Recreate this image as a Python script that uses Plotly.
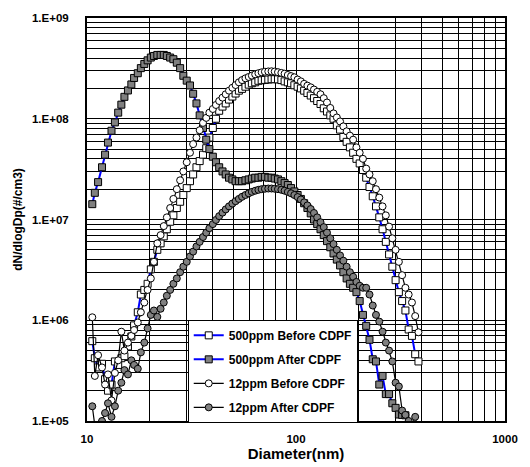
import plotly.graph_objects as go

# SMPS channel mid-point diameters (nm)
diam = [10.6, 10.9, 11.3, 11.8, 12.2, 12.6, 13.1, 13.6, 14.1, 14.6,
        15.1, 15.7, 16.3, 16.8, 17.5, 18.1, 18.8, 19.5, 20.2, 20.9,
        21.7, 22.5, 23.3, 24.1, 25.0, 25.9, 26.9, 27.9, 28.9, 30.0,
        31.1, 32.2, 33.4, 34.6, 35.9, 37.2, 38.5, 40.0, 41.4, 42.9,
        44.5, 46.1, 47.8, 49.6, 51.4, 53.3, 55.2, 57.3, 59.4, 61.5,
        63.8, 66.1, 68.5, 71.0, 73.7, 76.4, 79.1, 82.0, 85.1, 88.2,
        91.4, 94.7, 98.2, 101.8, 105.5, 109.4, 113.4, 117.6, 121.9, 126.3,
        131.0, 135.8, 140.7, 145.9, 151.2, 156.8, 162.5, 168.5, 174.7, 181.1,
        187.7, 194.6, 201.7, 209.1, 216.7, 224.7, 232.9, 241.4, 250.3, 259.5,
        269.0, 278.8, 289.0, 299.6, 310.6, 322.0, 333.8, 346.0, 358.7, 371.8,
        385.4]

ppm500_before = [6.2e5, 4.2e5, 3.4e5, 3.7e5, 2.6e5, 2.0e5, 2.3e5, 3.9e5, 3.6e5, 4.2e5,
                 4.4e5, 5.5e5, 6.9e5, 8.9e5, 1.2e6, 1.8e6, 2.0e6, 2.3e6, 3.2e6, 3.8e6,
                 5.0e6, 5.8e6, 6.8e6, 8.0e6, 9.5e6, 1.1e7, 1.3e7, 1.5e7, 1.75e7, 2.05e7,
                 2.4e7, 2.8e7, 3.3e7, 3.8e7, 4.4e7, 5.1e7, 6.5e7, 8.1e7, 1.0e8, 1.2e8,
                 1.32e8, 1.42e8, 1.55e8, 1.66e8, 1.78e8, 1.9e8, 1.98e8, 2.08e8, 2.18e8, 2.25e8,
                 2.3e8, 2.38e8, 2.41e8, 2.43e8, 2.45e8, 2.47e8, 2.47e8, 2.46e8, 2.42e8, 2.35e8,
                 2.3e8, 2.25e8, 2.15e8, 2.08e8, 2.0e8, 1.9e8, 1.8e8, 1.7e8, 1.6e8, 1.5e8,
                 1.4e8, 1.27e8, 1.18e8, 1.08e8, 1.0e8, 8.6e7, 7.8e7, 6.6e7, 5.9e7, 5.2e7,
                 4.6e7, 4.0e7, 3.6e7, 3.1e7, 2.6e7, 2.1e7, 1.7e7, 1.35e7, 1.05e7, 8.0e6,
                 6.0e6, 4.5e6, 3.4e6, 2.5e6, 1.9e6, 1.55e6, 1.25e6, 8.1e5, 7.0e5, 4.6e5,
                 3.9e5]

ppm500_after = [1.42e7, 1.84e7, 2.35e7, 3.3e7, 4.4e7, 5.8e7, 7.6e7, 9.2e7, 1.15e8, 1.38e8,
                1.65e8, 1.91e8, 2.19e8, 2.54e8, 2.83e8, 3.18e8, 3.5e8, 3.8e8, 4.05e8, 4.2e8,
                4.3e8, 4.3e8, 4.3e8, 4.2e8, 4.05e8, 3.9e8, 3.6e8, 3.18e8, 2.67e8, 2.39e8,
                2.14e8, 1.77e8, 1.42e8, 1.08e8, 8.1e7, 6.2e7, 5.0e7, 4.2e7, 3.7e7, 3.3e7,
                3.0e7, 2.8e7, 2.6e7, 2.5e7, 2.4e7, 2.4e7, 2.4e7, 2.45e7, 2.5e7, 2.55e7,
                2.6e7, 2.6e7, 2.65e7, 2.65e7, 2.6e7, 2.6e7, 2.55e7, 2.5e7, 2.4e7, 2.3e7,
                2.2e7, 2.05e7, 1.9e7, 1.75e7, 1.6e7, 1.45e7, 1.3e7, 1.15e7, 1.0e7, 9.0e6,
                8.0e6, 7.0e6, 6.1e6, 5.3e6, 4.6e6, 4.0e6, 3.5e6, 3.0e6, 2.6e6, 2.3e6,
                2.1e6, 1.9e6, 1.55e6, 1.13e6, 8.8e5, 6.4e5, 4.1e5, 3.9e5, 2.3e5, 2.8e5,
                1.85e5, 1.85e5, 1.5e5, 1.35e5, 1.16e5, 1.15e5, 1.14e5, 9.0e4, 8.0e4, 7.0e4,
                6.0e4]

ppm12_before = [1.07e6, 2.8e5, 4.5e5, 3.4e5, 2.3e5, 2.9e5, 1.6e5, 3.0e5, 4.0e5, 7.7e5,
                5.0e5, 6.0e5, 7.0e5, 8.0e5, 9.5e5, 1.2e6, 1.5e6, 2.0e6, 2.6e6, 3.8e6,
                5.8e6, 7.0e6, 8.6e6, 1.05e7, 1.3e7, 1.6e7, 2.0e7, 2.45e7, 3.0e7, 3.7e7,
                4.6e7, 5.6e7, 6.5e7, 7.7e7, 9.1e7, 1.02e8, 1.15e8, 1.25e8, 1.37e8, 1.5e8,
                1.62e8, 1.75e8, 1.9e8, 2.03e8, 2.16e8, 2.3e8, 2.42e8, 2.52e8, 2.6e8, 2.68e8,
                2.76e8, 2.83e8, 2.89e8, 2.93e8, 2.95e8, 2.96e8, 2.94e8, 2.9e8, 2.85e8, 2.8e8,
                2.72e8, 2.65e8, 2.58e8, 2.45e8, 2.35e8, 2.22e8, 2.13e8, 2.05e8, 1.95e8, 1.85e8,
                1.75e8, 1.6e8, 1.45e8, 1.28e8, 1.13e8, 1.03e8, 9.4e7, 8.4e7, 7.5e7, 6.8e7,
                6.2e7, 5.2e7, 4.6e7, 4.0e7, 3.2e7, 2.8e7, 2.4e7, 2.0e7, 1.65e7, 1.35e7,
                1.1e7, 8.5e6, 6.5e6, 5.0e6, 3.8e6, 2.8e6, 2.1e6, 1.8e6, 1.5e6, 1.1e6,
                7.6e5]

ppm12_after = [1.4e5, 0.9e5, 0.8e5, 1.0e5, 1.2e5, 1.5e5, 1.1e5, 1.4e5, 2.0e5, 2.4e5,
               3.2e5, 2.9e5, 4.0e5, 3.6e5, 3.3e5, 4.8e5, 6.0e5, 8.3e5, 1.13e6, 1.25e6,
               1.08e6, 1.3e6, 1.5e6, 1.75e6, 2.0e6, 2.3e6, 2.6e6, 3.0e6, 3.4e6, 3.8e6,
               4.3e6, 4.8e6, 5.4e6, 6.0e6, 6.7e6, 7.4e6, 8.2e6, 9.0e6, 9.9e6, 1.08e7,
               1.17e7, 1.26e7, 1.35e7, 1.44e7, 1.52e7, 1.6e7, 1.68e7, 1.75e7, 1.82e7, 1.88e7,
               1.93e7, 1.97e7, 2.0e7, 2.02e7, 2.03e7, 2.03e7, 2.02e7, 2.0e7, 1.97e7, 1.93e7,
               1.88e7, 1.82e7, 1.75e7, 1.67e7, 1.58e7, 1.48e7, 1.38e7, 1.27e7, 1.16e7, 1.05e7,
               9.4e6, 8.4e6, 7.4e6, 6.5e6, 5.7e6, 5.0e6, 4.4e6, 3.9e6, 3.4e6, 3.0e6,
               2.7e6, 2.4e6, 2.2e6, 2.1e6, 2.1e6, 1.8e6, 1.4e6, 1.13e6, 9.7e5, 7.7e5,
               6.0e5, 5.0e5, 3.9e5, 2.4e5, 2.2e5, 1.27e5, 1.15e5, 1.0e5, 9.0e4, 1.1e5,
               8.0e4]

series_names = ["500ppm Before CDPF", "500ppm After CDPF",
                "12ppm Before CDPF", "12ppm After CDPF"]
series_values = [ppm500_before, ppm500_after, ppm12_before, ppm12_after]
line_colors = ["#0000FF", "#0000FF", "#000000", "#000000"]
line_widths = [2, 2, 1.2, 1.2]
marker_symbols = ["square", "square", "circle", "circle"]
marker_fills = ["#FFFFFF", "#808080", "#FFFFFF", "#808080"]

x_tick_vals = [10, 100, 1000]
x_tick_text = ["10", "100", "1000"]
y_tick_vals = [1e5, 1e6, 1e7, 1e8, 1e9]
y_tick_text = ["1.E+05", "1.E+06", "1.E+07", "1.E+08", "1.E+09"]

FONT = "Liberation Sans, Arial, sans-serif"

fig = go.Figure()
for i, name in enumerate(series_names):
    fig.add_trace(go.Scatter(
        x=diam, y=series_values[i], name=name, mode="lines+markers",
        legendgroup=name,
        line=dict(color=line_colors[i], width=line_widths[i]),
        marker=dict(symbol=marker_symbols[i], size=7, color=marker_fills[i],
                    line=dict(color="#000000", width=1)),
    ))

grid_col = "#000000"
fig.update_layout(
    width=530, height=467,
    margin=dict(l=87, r=20, t=13, b=44),
    paper_bgcolor="white", plot_bgcolor="white",
    font=dict(family=FONT, size=11, color="black"),
    showlegend=True,
    legend=dict(x=0.241, y=0.251, xanchor="left", yanchor="top",
                bgcolor="white", bordercolor="black", borderwidth=1,
                font=dict(family=FONT, size=12, color="black", weight="bold"),
                tracegroupgap=5, itemwidth=30),
    xaxis=dict(type="log", range=[1, 3], tickvals=x_tick_vals, ticktext=x_tick_text,
               showgrid=True, gridcolor=grid_col, gridwidth=1,
               minor=dict(dtick="D1", showgrid=True, gridcolor=grid_col, gridwidth=1),
               showline=True, linecolor="black", linewidth=2, mirror=True,
               ticks="", ticklabelstandoff=6,
               tickfont=dict(family=FONT, size=11.5, weight="bold"),
               title=dict(text="Diameter(nm)", standoff=0,
                          font=dict(family=FONT, size=15, weight="bold"))),
    yaxis=dict(type="log", range=[5, 9], tickvals=y_tick_vals, ticktext=y_tick_text,
               showgrid=True, gridcolor=grid_col, gridwidth=1,
               minor=dict(dtick="D1", showgrid=True, gridcolor=grid_col, gridwidth=1),
               showline=True, linecolor="black", linewidth=2, mirror=True,
               ticks="", ticklabelstandoff=14,
               tickfont=dict(family=FONT, size=11.5, weight="bold"),
               title=dict(text="dN/dlogDp(#/cm3)", standoff=7,
                          font=dict(family=FONT, size=12, weight="bold"))),
)

fig.write_html("out.html")
